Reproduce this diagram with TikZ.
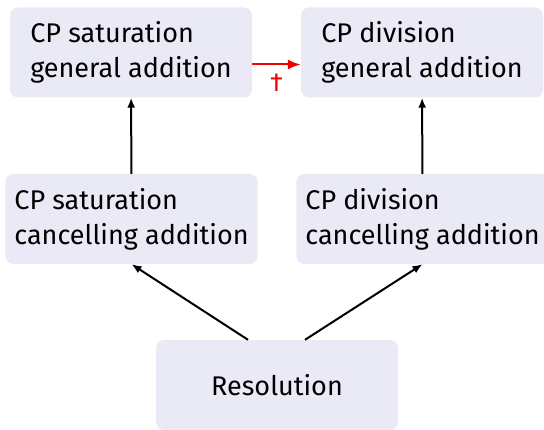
\documentclass[tikz,border=0pt]{standalone}
\usepackage{fontspec}
\setmainfont{Fira Sans}
\usetikzlibrary{arrows.meta,positioning}
\definecolor{lavender}{RGB}{234,234,246}
\definecolor{ink}{RGB}{0,0,0}
\definecolor{alarm}{RGB}{240,0,0}
\tikzset{
  >={Latex[length=10pt,width=8pt]},
  box/.style={fill=lavender,rounded corners=8pt,inner sep=9pt,
    minimum width=242pt,minimum height=90pt,align=left,
    font=\fontsize{27}{35}\selectfont},
  flow/.style={->,line width=2pt,draw=#1},
  flow/.default=ink,
  tag/.style={font=\fontsize{26}{30}\selectfont,text=alarm,inner sep=1pt},
}
\begin{document}
\begin{tikzpicture}[x=1pt,y=1pt]
  \useasboundingbox (0,0) rectangle (544,429);
  % upper row
  \node[box] (satgen) at (131,376.5) {CP saturation\\general addition};
  \node[box] (divgen) at (422,376.5) {CP division\\general addition};
  % middle row
  \node[box] (satcan) at (131.5,210) {CP saturation\\cancelling addition};
  \node[box] (divcan) at (422.5,210) {CP division\\cancelling addition};
  % base
  \node[box,align=center] (res) at (277,44) {Resolution};
  \draw[flow] (satcan) -- (satgen);
  \draw[flow] (divcan) -- (divgen);
  \draw[flow] ([xshift=-29pt]res.north) -- (satcan.south);
  \draw[flow] ([xshift=28pt]res.north) -- (divcan.south);
  \draw[flow=alarm,>={Latex[length=13pt,width=10pt]}] ([yshift=-12pt]satgen.east) -- ([yshift=-12pt]divgen.west)
    node[midway,below=8pt,tag] (nope) {†};
\end{tikzpicture}
\end{document}
